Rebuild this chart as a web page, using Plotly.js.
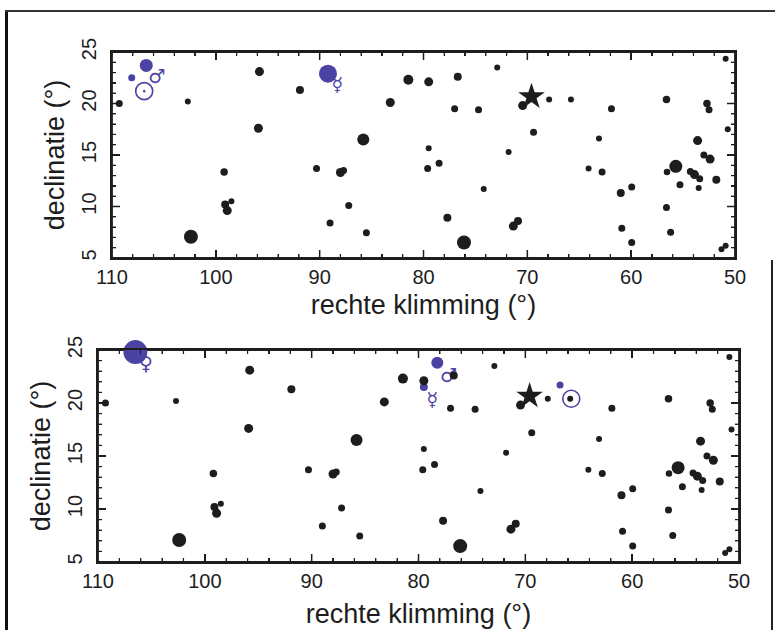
<!DOCTYPE html>
<html>
<head>
<meta charset="utf-8">
<script src="https://cdn.plot.ly/plotly-3.0.1.min.js"></script>
<style>
html,body{margin:0;padding:0;background:#fff;}
#page{position:relative;width:775px;height:630px;overflow:hidden;}
#top{position:absolute;left:0;top:0;width:775px;height:320px;}
#bot{position:absolute;left:0;top:320px;width:775px;height:310px;}
.fr{position:absolute;background:#222;}
</style>
</head>
<body>
<div id="page">
  <div id="top"></div>
  <div id="bot"></div>
  <div class="fr" style="left:5px;top:10px;width:2.5px;height:620px;background:#111;"></div>
  <div class="fr" style="left:5px;top:10px;width:770px;height:1.5px;background:#333;"></div>
  <div class="fr" style="left:771px;top:260px;width:1.5px;height:370px;"></div>
</div>
<script>
// Background stars (same field in both panels)
const starRA  = [109.3,102.7,95.8,95.9,91.9,83.2,85.8,99.2,99.1,98.5,98.9,102.4,90.3,88.0,87.7,87.2,89.0,85.5,
                 81.46,79.5,76.7,72.9,77.0,74.7,70.45,67.9,65.8,69.4,71.8,79.5,79.6,78.5,74.2,77.7,76.1,71.35,70.9,
                 61.9,63.1,64.1,62.8,61.0,59.95,60.9,59.95,56.6,55.7,56.55,55.3,56.6,56.2,53.6,53.0,52.4,54.3,53.9,
                 53.4,53.5,51.8,52.7,52.5,50.7,50.9,51.3,50.9];
const starDec = [20.0,20.2,23.1,17.6,21.3,20.1,16.5,13.35,10.2,10.5,9.6,7.07,13.7,13.3,13.5,10.1,8.4,7.45,
                 22.3,22.1,22.6,23.5,19.5,19.4,19.8,20.4,20.4,17.2,15.3,15.65,13.7,14.2,11.7,8.9,6.5,8.1,8.6,
                 19.5,16.6,13.7,13.35,11.3,11.9,7.9,6.5,20.4,13.9,13.35,12.1,9.9,7.5,16.4,15.0,14.6,13.4,13.1,
                 12.7,11.8,12.6,20.0,19.4,17.5,24.35,5.85,6.2];
const starSizes = [7,6,9,9,8,9,12,7.5,8,6,9,14,7,9,7,7,7,7,
                 10,9,8,6,7,7,9,6,6,7,6,6,7,7,6,8,14,9,8,
                 7,6,6,7,8,7,7,7,7.5,13,6.5,7,7,7,9,7,9,7,9,
                 7,6,8,7.5,7,6,6,6,6];
// Bright star (marked with a star symbol)
const brightRA = [69.6];
const brightDec = [20.66];

// Top panel: planets / moon
const topDotRA   = [108.1, 106.7, 89.2];
const topDotDec  = [22.5, 23.7, 22.9];
const topDotSize = [7, 13, 18];
const topSunRA = [106.9], topSunDec = [21.2];
const topSymRA  = [105.7, 88.3];
const topSymDec = [22.5, 21.7];
const topSymTxt = ['\u2642', '\u263F'];

// Bottom panel: planets / moon
const botDotRA   = [106.5, 78.24, 79.5, 66.75];
const botDotDec  = [24.8, 23.8, 21.5, 21.7];
const botDotSize = [24, 12, 8, 7];
const botSunRA = [65.7], botSunDec = [20.4];
const botSymRA  = [105.5, 77.2, 78.7];
const botSymDec = [23.6, 22.4, 20.2];
const botSymTxt = ['\u2640', '\u2642', '\u263F'];

const xTicks = [110, 100, 90, 80, 70, 60, 50];
const yTicks = [5, 10, 15, 20, 25];
const xMinorStep = 2, yMinorStep = 1;
const xTitle = 'rechte klimming (°)';
const yTitle = 'declinatie (°)';

const BLUE = '#4b43a3';
const INK = '#1d1d1d';
const FONT = 'Liberation Sans';

function traces(dRA, dDec, dSize, sRA, sDec, symRA, symDec, symTxt) {
  return [
    {type:'scatter', mode:'markers', x:dRA, y:dDec, cliponaxis:false,
     marker:{size:dSize, color:BLUE, opacity:1, line:{width:0}}, hoverinfo:'skip'},
    {type:'scatter', mode:'markers', x:sRA, y:sDec,
     marker:{symbol:'circle-open-dot', size:17, color:BLUE, opacity:1, line:{width:1.6, color:BLUE}}, hoverinfo:'skip'},
    {type:'scatter', mode:'text', x:symRA, y:symDec, text:symTxt,
     textfont:{family:'DejaVu Sans', size:19, color:BLUE}, hoverinfo:'skip'},
    {type:'scatter', mode:'markers', x:starRA, y:starDec, cliponaxis:false,
     marker:{size:starSizes, color:INK, opacity:1, line:{width:0}}, hoverinfo:'skip'},
    {type:'scatter', mode:'markers', x:brightRA, y:brightDec,
     marker:{symbol:'star', size:20, color:INK, opacity:1, line:{width:0}}, hoverinfo:'skip'}
  ];
}

// Axis frame and tick marks (drawn as shapes through the axes, in case the axis layer is not painted)
function frameShapes(plotW, plotH) {
  const s = [];
  const ln = function(w){ return {color:INK, width:w}; };
  s.push({type:'rect', layer:'below', xref:'x domain', yref:'y domain', x0:0, x1:1, y0:0, y1:1,
          line:ln(1.8), fillcolor:'rgba(0,0,0,0)'});
  const xMin = Math.min.apply(null, xTicks), xMax = Math.max.apply(null, xTicks);
  const yMin = Math.min.apply(null, yTicks), yMax = Math.max.apply(null, yTicks);
  function xTick(v, len, w) {
    s.push({type:'line', layer:'below', xref:'x', yref:'y domain', x0:v, x1:v, y0:0, y1:len/plotH, line:ln(w)});
    s.push({type:'line', layer:'below', xref:'x', yref:'y domain', x0:v, x1:v, y0:1, y1:1-len/plotH, line:ln(w)});
  }
  function yTick(v, len, w) {
    s.push({type:'line', layer:'below', xref:'x domain', yref:'y', x0:0, x1:len/plotW, y0:v, y1:v, line:ln(w)});
    s.push({type:'line', layer:'below', xref:'x domain', yref:'y', x0:1, x1:1-len/plotW, y0:v, y1:v, line:ln(w)});
  }
  for (let v = xMin + xMinorStep; v < xMax; v += xMinorStep) { if (xTicks.indexOf(v) < 0) xTick(v, 4, 1.2); }
  xTicks.forEach(function(v){ if (v !== xMin && v !== xMax) xTick(v, 8, 1.5); });
  for (let v = yMin + yMinorStep; v < yMax; v += yMinorStep) { if (yTicks.indexOf(v) < 0) yTick(v, 4, 1.2); }
  yTicks.forEach(function(v){ if (v !== yMin && v !== yMax) yTick(v, 8, 1.5); });
  return s;
}

function layoutFor(w, h, m, titleStandoff) {
  const plotW = w - m.l - m.r, plotH = h - m.t - m.b;
  return {
    width:w, height:h, margin:m, paper_bgcolor:'rgba(0,0,0,0)', plot_bgcolor:'rgba(0,0,0,0)', showlegend:false,
    xaxis:{range:[xTicks[0], xTicks[xTicks.length-1]], tickvals:xTicks,
      ticks:'inside', ticklen:8, tickwidth:1.5, tickcolor:INK,
      showline:true, linecolor:INK, linewidth:1.8, mirror:'allticks', showgrid:false, zeroline:false,
      minor:{dtick:xMinorStep, ticks:'inside', ticklen:4, tickwidth:1.2, tickcolor:INK, showgrid:false},
      tickfont:{family:FONT, size:20, color:INK},
      title:{text:xTitle, font:{family:FONT, size:27, color:INK}, standoff:titleStandoff}},
    yaxis:{range:[yTicks[0], yTicks[yTicks.length-1]], tickvals:yTicks,
      ticks:'inside', ticklen:8, tickwidth:1.5, tickcolor:INK,
      showline:true, linecolor:INK, linewidth:1.8, mirror:'allticks', showgrid:false, zeroline:false,
      minor:{dtick:yMinorStep, ticks:'inside', ticklen:4, tickwidth:1.2, tickcolor:INK, showgrid:false},
      tickangle:-90, tickfont:{family:FONT, size:20, color:INK}, ticklabelstandoff:6,
      title:{text:yTitle, font:{family:FONT, size:27, color:INK}, standoff:6}},
    shapes: frameShapes(plotW, plotH)
  };
}

function touch(gd) {
  gd.querySelectorAll('path.xlines-above, path.ylines-above, path.xtick, path.ytick').forEach(function(el){
    try { el.getBBox(); getComputedStyle(el).stroke; } catch(e) {}
  });
  return gd;
}

Plotly.newPlot('top',
  traces(topDotRA, topDotDec, topDotSize, topSunRA, topSunDec, topSymRA, topSymDec, topSymTxt),
  layoutFor(775, 320, {l:112, r:40, t:52, b:62}, 17), {staticPlot:true, displayModeBar:false}).then(touch);
Plotly.newPlot('bot',
  traces(botDotRA, botDotDec, botDotSize, botSunRA, botSunDec, botSymRA, botSymDec, botSymTxt),
  layoutFor(775, 310, {l:98, r:36, t:30, b:68}, 13), {staticPlot:true, displayModeBar:false}).then(touch);
</script>
</body>
</html>
